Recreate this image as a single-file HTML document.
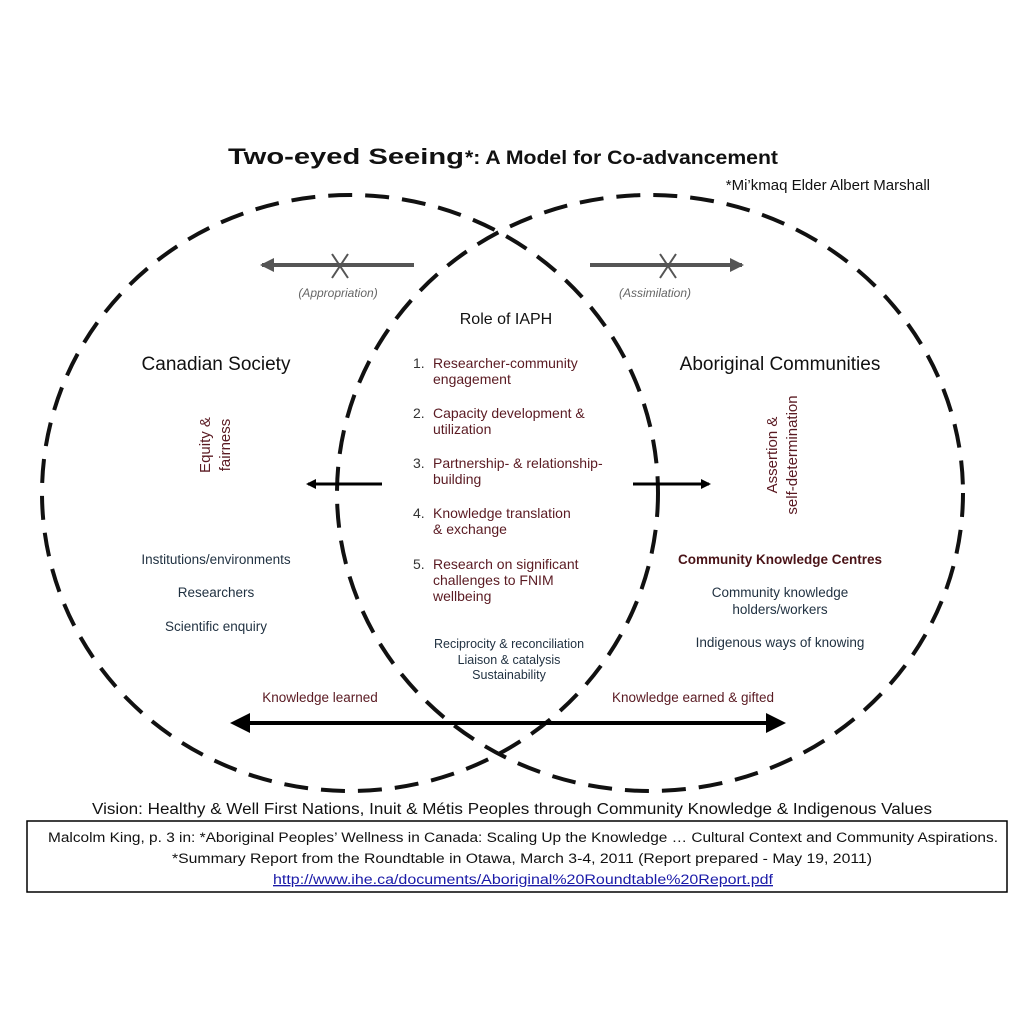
<!DOCTYPE html>
<html><head><meta charset="utf-8"><style>
html,body{margin:0;padding:0;background:#fff;}
svg{display:block}
text{font-family:"Liberation Sans",Arial,sans-serif;}
</style></head><body>
<svg width="1030" height="1025" viewBox="0 0 1030 1025" xmlns="http://www.w3.org/2000/svg">
<defs>
<marker id="ah" markerWidth="10" markerHeight="10" refX="8" refY="5" orient="auto" markerUnits="userSpaceOnUse"><path d="M0,0 L10,5 L0,10 z" fill="#000"/></marker>
<marker id="ahg" markerWidth="14" markerHeight="14" refX="12" refY="7" orient="auto" markerUnits="userSpaceOnUse"><path d="M0,0 L14,7 L0,14 z" fill="#555"/></marker>
</defs>
<rect width="1030" height="1025" fill="#fff"/>
<text x="228" y="164" font-size="22" font-weight="bold" fill="#111" textLength="236" lengthAdjust="spacingAndGlyphs">Two-eyed Seeing</text>
<text x="465" y="164" font-size="19" font-weight="bold" fill="#111" textLength="313" lengthAdjust="spacingAndGlyphs">*: A Model for Co-advancement</text>
<text x="930" y="190" text-anchor="end" font-size="15" fill="#111">*Mi’kmaq Elder Albert Marshall</text>

<ellipse cx="350" cy="493" rx="308" ry="298" fill="none" stroke="#111" stroke-width="4" stroke-dasharray="24 13"/>
<ellipse cx="650" cy="493" rx="313" ry="298" fill="none" stroke="#111" stroke-width="4" stroke-dasharray="24 13"/>

<line x1="414" y1="265" x2="262" y2="265" stroke="#555" stroke-width="4" marker-end="url(#ahg)"/>
<path d="M332,254 L348,278 M348,254 L332,278" stroke="#555" stroke-width="2" fill="none"/>
<line x1="590" y1="265" x2="742" y2="265" stroke="#555" stroke-width="4" marker-end="url(#ahg)"/>
<path d="M660,254 L676,278 M676,254 L660,278" stroke="#555" stroke-width="2" fill="none"/>
<text x="338" y="297" text-anchor="middle" font-size="12" font-style="italic" fill="#666">(Appropriation)</text>
<text x="655" y="297" text-anchor="middle" font-size="12" font-style="italic" fill="#666">(Assimilation)</text>

<text x="506" y="324" text-anchor="middle" font-size="16" fill="#111">Role of IAPH</text>
<text x="216" y="370" text-anchor="middle" font-size="19" fill="#111">Canadian Society</text>
<text x="780" y="370" text-anchor="middle" font-size="19" fill="#111">Aboriginal Communities</text>

<g font-size="14" fill="#5a1a22">
<text x="413" y="368" fill="#333">1.</text><text x="433" y="368">Researcher-community</text><text x="433" y="384">engagement</text>
<text x="413" y="418" fill="#333">2.</text><text x="433" y="418">Capacity development &amp;</text><text x="433" y="434">utilization</text>
<text x="413" y="468" fill="#333">3.</text><text x="433" y="468">Partnership- &amp; relationship-</text><text x="433" y="484">building</text>
<text x="413" y="518" fill="#333">4.</text><text x="433" y="518">Knowledge translation</text><text x="433" y="534">&amp; exchange</text>
<text x="413" y="569" fill="#333">5.</text><text x="433" y="569">Research on significant</text><text x="433" y="585">challenges to FNIM</text><text x="433" y="601">wellbeing</text>
</g>

<g transform="translate(210,445) rotate(-90)" font-size="15" fill="#5a1a22" text-anchor="middle"><text x="0" y="0">Equity &amp;</text><text x="0" y="20">fairness</text></g>
<g transform="translate(777,455) rotate(-90)" font-size="15" fill="#5a1a22" text-anchor="middle"><text x="0" y="0">Assertion &amp;</text><text x="0" y="20">self-determination</text></g>

<line x1="382" y1="484" x2="308" y2="484" stroke="#000" stroke-width="3" marker-end="url(#ah)"/>
<line x1="633" y1="484" x2="709" y2="484" stroke="#000" stroke-width="3" marker-end="url(#ah)"/>

<g font-size="13.5" fill="#1f3040" text-anchor="middle">
<text x="216" y="564">Institutions/environments</text>
<text x="216" y="597">Researchers</text>
<text x="216" y="631">Scientific enquiry</text>
<text x="780" y="597">Community knowledge</text>
<text x="780" y="614">holders/workers</text>
<text x="780" y="647">Indigenous ways of knowing</text>
<text x="509" y="648" font-size="12.5">Reciprocity &amp; reconciliation</text>
<text x="509" y="664" font-size="12.5">Liaison &amp; catalysis</text>
<text x="509" y="679" font-size="12.5">Sustainability</text>
</g>
<text x="780" y="564" text-anchor="middle" font-size="13.5" font-weight="bold" fill="#4a1418">Community Knowledge Centres</text>

<text x="320" y="702" text-anchor="middle" font-size="13.5" fill="#5a1a22">Knowledge learned</text>
<text x="693" y="702" text-anchor="middle" font-size="13.5" fill="#5a1a22">Knowledge earned &amp; gifted</text>
<line x1="246" y1="723" x2="770" y2="723" stroke="#000" stroke-width="4"/>
<path d="M230,723 L250,713 L250,733 z" fill="#000"/>
<path d="M786,723 L766,713 L766,733 z" fill="#000"/>

<text x="512" y="814" text-anchor="middle" font-size="15.5" fill="#111" textLength="840" lengthAdjust="spacingAndGlyphs">Vision: Healthy &amp; Well First Nations, Inuit &amp; Métis Peoples through Community Knowledge &amp; Indigenous Values</text>

<rect x="27" y="821" width="980" height="71" fill="#fff" stroke="#000" stroke-width="1.5"/>
<g font-size="13.5" fill="#111" text-anchor="middle">
<text x="523" y="842" textLength="950" lengthAdjust="spacingAndGlyphs">Malcolm King, p. 3 in:  *Aboriginal Peoples’ Wellness in Canada:  Scaling Up the Knowledge … Cultural Context and Community Aspirations.</text>
<text x="522" y="863" textLength="700" lengthAdjust="spacingAndGlyphs">*Summary Report from the  Roundtable in Otawa, March 3-4, 2011  (Report prepared - May 19, 2011)</text>
<text x="523" y="884" fill="#1a1aa8" text-decoration="underline" textLength="500" lengthAdjust="spacingAndGlyphs">http://www.ihe.ca/documents/Aboriginal%20Roundtable%20Report.pdf</text>
</g>
</svg>
</body></html>
